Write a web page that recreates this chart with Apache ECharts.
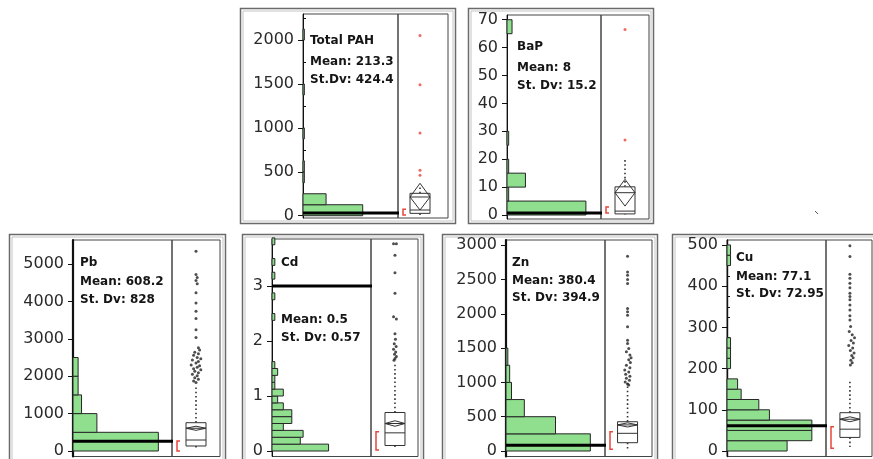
<!DOCTYPE html>
<html>
<head>
<meta charset="utf-8">
<script src="https://cdn.jsdelivr.net/npm/echarts@6/dist/echarts.min.js"></script>
<style>
  html, body { margin: 0; padding: 0; background: #fff; }
  #chart { width: 873px; height: 459px; }
</style>
</head>
<body>
<div id="chart"></div>
<script>
// ---------- Total PAH ----------
const pahTicks = [0, 500, 1000, 1500, 2000];
const pahMinorTicks = [250, 750, 1250, 1750, 2250];
const pahBinWidth = 125;
const pahBinStart = [0, 125, 375, 500, 875, 1375, 2000];
const pahCounts = [44, 17, 1, 1, 1, 1, 1];
const pahBox = [0, 27, 65, 255, 330];            // lower whisker, Q1, median, Q3, upper whisker
const pahMean = 213.3;
const pahSd = 424.4;
const pahDiamond = [65, 369];                     // 95% confidence interval of the mean
const pahShortestHalf = [8, 75];
const pahRefLine = 30;
const pahPoints = [[0, 2053], [0, 1492], [0, 943], [0, 518], [0, 461]];

// ---------- BaP ----------
const bapTicks = [0, 10, 20, 30, 40, 50, 60, 70];
const bapBinWidth = 5;
const bapBinStart = [0, 5, 10, 15, 25, 65];
const bapCounts = [47, 1, 11, 1, 1, 3];
const bapBox = [0.2, 0.4, 1.4, 10.1, 19.7];
const bapMean = 8;
const bapSd = 15.2;
const bapDiamond = [3.2, 12.8];
const bapShortestHalf = [0.7, 2.9];
const bapRefLine = 0.7;
const bapPoints = [[0, 66.5], [0, 26.9]];

// ---------- Pb ----------
const pbTicks = [0, 1000, 2000, 3000, 4000, 5000];
const pbBinWidth = 500;
const pbBinStart = [0, 500, 1000, 1500, 2000];
const pbCounts = [50, 14, 5, 3, 3];
const pbBox = [45, 134, 294, 757, 1765];
const pbMean = 608.2;
const pbSd = 828;
const pbDiamond = [553, 663];
const pbShortestHalf = [0, 267];
const pbRefLine = 260;
const pbPoints = [
  [0, 5340], [0, 4720], [0.05, 4640], [0, 4560], [0.05, 4470], [0, 4230], [0, 3960],
  [0, 3740], [0, 3540], [0, 3240], [0, 3035], [0.1, 2760], [0.15, 2700], [-0.05, 2640],
  [0.1, 2600], [-0.1, 2560], [0.05, 2500], [0.2, 2470], [-0.15, 2430], [0.1, 2390],
  [0, 2350], [-0.2, 2300], [0.15, 2280], [0.05, 2240], [-0.1, 2200], [0.2, 2170],
  [-0.05, 2130], [0.1, 2090], [-0.15, 2050], [0.05, 2010], [-0.05, 1960], [0.1, 1920],
  [-0.1, 1870], [0, 1830]
];

// ---------- Cd ----------
const cdTicks = [0, 1, 2, 3];
const cdBinWidth = 0.125;
const cdBinStart = [0, 0.125, 0.25, 0.375, 0.5, 0.625, 0.75, 0.875, 1, 1.125, 1.25, 1.375, 1.5,
  2.375, 2.75, 3.125, 3.375, 3.75];
const cdCounts = [20, 10, 11, 4, 7, 7, 4, 2, 4, 1, 1, 2, 1, 1, 1, 1, 1, 1];
const cdBox = [0.05, 0.1, 0.33, 0.7, 1.6];
const cdMean = 0.5;
const cdSd = 0.57;
const cdDiamond = [0.45, 0.55];
const cdShortestHalf = [0.02, 0.35];
const cdRefLine = 3;
const cdPoints = [
  [-0.06, 3.77], [0.06, 3.77], [0, 3.56], [0, 3.24], [0, 2.87], [-0.06, 2.44], [0.06, 2.4],
  [0, 2.13], [0.02, 2.03], [-0.03, 1.95], [0.05, 1.9], [-0.06, 1.85], [0.03, 1.8],
  [-0.02, 1.76], [0.06, 1.72], [0, 1.68], [-0.04, 1.65]
];

// ---------- Zn ----------
const znTicks = [0, 500, 1000, 1500, 2000, 2500, 3000];
const znBinWidth = 250;
const znBinStart = [0, 250, 500, 750, 1000, 1250];
const znCounts = [46, 27, 10, 3, 2, 1];
const znBox = [15, 121, 258, 427, 990];
const znMean = 380.4;
const znSd = 394.9;
const znDiamond = [350, 411];
const znShortestHalf = [25, 281];
const znRefLine = 85;
const znPoints = [
  [0, 2840], [0, 2611], [0, 2563], [0, 2500], [0, 2442], [0, 2078], [0, 2029], [0, 1980],
  [0, 1810], [0, 1616], [0, 1568], [0.05, 1495], [-0.05, 1447], [0.1, 1398], [0.15, 1360],
  [0.05, 1330], [0.12, 1290], [-0.05, 1252], [0.1, 1215], [-0.12, 1180], [0.05, 1150],
  [-0.08, 1120], [0.1, 1090], [-0.05, 1060], [0.08, 1030], [-0.1, 1005], [0, 976], [0.05, 962]
];

// ---------- Cu ----------
const cuTicks = [0, 100, 200, 300, 400, 500];
const cuMinorTicks = [25, 50, 75, 125, 150, 175, 225, 250, 275, 325, 350, 375, 425, 450, 475];
const cuBinWidth = 25;
const cuBinStart = [0, 25, 50, 75, 100, 125, 150, 200, 225, 250, 450, 475];
const cuCounts = [17, 24, 24, 12, 9, 4, 3, 1, 1, 1, 1, 1];
const cuBox = [10, 33, 53, 93, 172];
const cuMean = 77.1;
const cuSd = 72.95;
const cuDiamond = [71, 83];
const cuShortestHalf = [7, 59];
const cuRefLine = 61;
const cuPoints = [
  [0, 498], [0, 472], [0, 429], [0, 419], [0, 407], [0, 396], [0, 383], [0, 375], [0, 367],
  [0, 354], [0, 342], [0, 328], [0, 318], [0.03, 302], [-0.03, 290], [0.1, 282], [0.2, 275],
  [0.05, 268], [0.15, 262], [-0.05, 256], [0.12, 250], [0.02, 244], [0.18, 238], [0.08, 232],
  [0.14, 226], [0.04, 220], [0.1, 214], [0.02, 209]
];

const GREEN = '#8fdf8f';
const RED = '#e8473a';
const INK = '#333';

// Panel contents (data) and panel placement on the page (layout)
const panels = [
  { name: 'Total PAH', sdLabel: 'St.Dv: ', mean: pahMean, sd: pahSd, ticks: pahTicks, minor: pahMinorTicks,
    binWidth: pahBinWidth, binStart: pahBinStart, counts: pahCounts, box: pahBox, diamond: pahDiamond,
    half: pahShortestHalf, ref: pahRefLine, points: pahPoints, pointColor: RED,
    L: { frame: [240, 8, 455, 223], axisX: 303, divX: 398, rightX: 448, top: 14, bottom: 218,
         yMin: -26, yMax: 2297, countMax: 70, boxRange: [-0.88, 1.12], axisWidth: 1, textX: 310, textY: [41, 62, 80] } },
  { name: 'BaP', sdLabel: 'St. Dv: ', mean: bapMean, sd: bapSd, ticks: bapTicks, minor: null,
    binWidth: bapBinWidth, binStart: bapBinStart, counts: bapCounts, box: bapBox, diamond: bapDiamond,
    half: bapShortestHalf, ref: bapRefLine, points: bapPoints, pointColor: RED,
    L: { frame: [468, 8, 653, 223], axisX: 507, divX: 601, rightX: 649, top: 15, bottom: 219,
         yMin: -1.43, yMax: 71.7, countMax: 56, boxRange: [-1, 1], axisWidth: 1, textX: 517, textY: [47, 68, 86] } },
  { name: 'Pb', sdLabel: 'St. Dv: ', mean: pbMean, sd: pbSd, ticks: pbTicks, minor: null,
    binWidth: pbBinWidth, binStart: pbBinStart, counts: pbCounts, box: pbBox, diamond: pbDiamond,
    half: pbShortestHalf, ref: pbRefLine, points: pbPoints, pointColor: '#222',
    L: { frame: [9, 234, 225, 463], axisX: 73, divX: 172, rightX: 220, top: 240, bottom: 456.5,
         yMin: -147, yMax: 5642, countMax: 58, boxRange: [-1, 1], axisWidth: 2.2, textX: 80, textY: [263, 282, 300] } },
  { name: 'Cd', sdLabel: 'St. Dv: ', mean: cdMean, sd: cdSd, ticks: cdTicks, minor: null,
    binWidth: cdBinWidth, binStart: cdBinStart, counts: cdCounts, box: cdBox, diamond: cdDiamond,
    half: cdShortestHalf, ref: cdRefLine, points: cdPoints, pointColor: '#222',
    L: { frame: [242, 234, 423, 463], axisX: 272, divX: 371, rightX: 418, top: 239, bottom: 456.5,
         yMin: -0.1, yMax: 3.855, countMax: 35, boxRange: [-1.02, 0.98], axisWidth: 1, textX: 281, textY: [263, 320, 338] } },
  { name: 'Zn', sdLabel: 'St. Dv: ', mean: znMean, sd: znSd, ticks: znTicks, minor: null,
    binWidth: znBinWidth, binStart: znBinStart, counts: znCounts, box: znBox, diamond: znDiamond,
    half: znShortestHalf, ref: znRefLine, points: znPoints, pointColor: '#222',
    L: { frame: [442, 234, 657, 463], axisX: 506, divX: 605, rightX: 652, top: 240, bottom: 456.5,
         yMin: -80, yMax: 3076, countMax: 54, boxRange: [-0.96, 1.04], axisWidth: 2.2, textX: 512, textY: [263, 281, 298] } },
  { name: 'Cu', sdLabel: 'St. Dv: ', mean: cuMean, sd: cuSd, ticks: cuTicks, minor: cuMinorTicks,
    binWidth: cuBinWidth, binStart: cuBinStart, counts: cuCounts, box: cuBox, diamond: cuDiamond,
    half: cuShortestHalf, ref: cuRefLine, points: cuPoints, pointColor: '#222',
    L: { frame: [672, 234, 877, 463], axisX: 727, divX: 826, rightX: 872, top: 240, bottom: 456.5,
         yMin: -13.3, yMax: 512, countMax: 28, boxRange: [-1.04, 0.96], axisWidth: 1.4, textX: 736, textY: [258, 277, 294] } }
];

// Horizontal histogram bar: [binLow, binHigh, count]
function histItem(params, api) {
  const lo = api.value(0), hi = api.value(1), n = api.value(2);
  const p0 = api.coord([0, lo]);
  const p1 = api.coord([n, hi]);
  return {
    type: 'rect',
    shape: { x: p0[0], y: p1[1], width: p1[0] - p0[0], height: p0[1] - p1[1] },
    style: { fill: GREEN, stroke: '#262626', lineWidth: 1 }
  };
}

// Thick reference line across the histogram
function refItem(params, api) {
  const y = api.coord([0, api.value(1)])[1];
  const cs = params.coordSys;
  return {
    type: 'line',
    shape: { x1: cs.x, y1: y, x2: cs.x + cs.width + 1, y2: y },
    style: { stroke: '#000', lineWidth: 3 }
  };
}

// Outlier box plot with mean diamond and shortest-half bracket
function boxItem(params, api) {
  const cx = api.coord([0, 0])[0];
  const y = k => api.coord([0, api.value(k)])[1];
  const wLo = y(1), q1 = y(2), med = y(3), q3 = y(4), wHi = y(5);
  const ciLo = y(6), mean = y(7), ciHi = y(8), hLo = y(9), hHi = y(10);
  const hw = 10;
  const bx = params.coordSys.x + 5;
  const dotted = { stroke: INK, lineWidth: 1.6, lineDash: [1.6, 2.6] };
  const thin = { stroke: INK, lineWidth: 1, fill: null };
  return {
    type: 'group',
    children: [
      { type: 'line', shape: { x1: cx, y1: q3, x2: cx, y2: wHi }, style: dotted },
      { type: 'line', shape: { x1: cx, y1: q1, x2: cx, y2: wLo }, style: dotted },
      { type: 'rect', shape: { x: cx - hw, y: q3, width: 2 * hw, height: Math.max(q1 - q3, 0.5) },
        style: { fill: '#fff', stroke: INK, lineWidth: 1 } },
      { type: 'line', shape: { x1: cx - hw, y1: med, x2: cx + hw, y2: med }, style: thin },
      { type: 'polygon', shape: { points: [[cx, ciHi], [cx + hw, mean], [cx, ciLo], [cx - hw, mean]] },
        style: { fill: 'rgba(255,255,255,0)', stroke: INK, lineWidth: 1 } },
      { type: 'line', shape: { x1: cx - hw, y1: mean, x2: cx + hw, y2: mean }, style: thin },
      { type: 'polyline', shape: { points: [[bx + 3, hHi], [bx, hHi], [bx, hLo], [bx + 3, hLo]] },
        style: { fill: null, stroke: RED, lineWidth: 1.5 } }
    ]
  };
}

const grids = [], xAxes = [], yAxes = [], series = [], graphics = [];
const labelFont = { fontSize: 16, color: '#2a2a2a', fontFamily: 'DejaVu Sans' };

panels.forEach((p, i) => {
  const L = p.L;
  const gH = grids.length;
  grids.push({ left: L.axisX, top: L.top, width: L.divX - L.axisX, height: L.bottom - L.top,
    show: true, borderColor: '#444', borderWidth: 1, backgroundColor: 'transparent' });
  grids.push({ left: L.divX, top: L.top, width: L.rightX - L.divX, height: L.bottom - L.top,
    show: true, borderColor: '#444', borderWidth: 1, backgroundColor: 'transparent' });
  const gB = gH + 1;

  const xH = xAxes.length;
  xAxes.push({ type: 'value', gridIndex: gH, min: 0, max: L.countMax, show: false });
  xAxes.push({ type: 'value', gridIndex: gB, min: L.boxRange[0], max: L.boxRange[1], show: false });
  const xB = xH + 1;

  const yH = yAxes.length;
  yAxes.push({
    type: 'value', gridIndex: gH, min: L.yMin, max: L.yMax, splitLine: { show: false },
    axisLine: { show: true, onZero: false, lineStyle: { color: '#111', width: L.axisWidth } },
    axisTick: { show: true, length: 5, customValues: p.ticks, lineStyle: { color: '#111', width: 1 } },
    axisLabel: Object.assign({ show: true, customValues: p.ticks, margin: 9,
      formatter: v => String(v) }, labelFont)
  });
  yAxes.push({ type: 'value', gridIndex: gB, min: L.yMin, max: L.yMax, show: false });
  const yB = yH + 1;
  if (p.minor) {
    yAxes.push({
      type: 'value', gridIndex: gH, min: L.yMin, max: L.yMax, splitLine: { show: false },
      axisLine: { show: false },
      axisTick: { show: true, length: 3, customValues: p.minor, lineStyle: { color: '#111', width: 1 } },
      axisLabel: { show: false }
    });
  }

  series.push({
    type: 'custom', xAxisIndex: xH, yAxisIndex: yH, renderItem: histItem, z: 2,
    encode: { x: 2, y: [0, 1] },
    data: p.binStart.map((s, k) => [s, s + p.binWidth, p.counts[k]])
  });
  series.push({
    type: 'custom', xAxisIndex: xH, yAxisIndex: yH, renderItem: refItem, z: 4,
    encode: { x: 0, y: 1 }, data: [[0, p.ref]]
  });
  series.push({
    type: 'custom', xAxisIndex: xB, yAxisIndex: yB, renderItem: boxItem, z: 3,
    encode: { x: 0, y: 1 },
    data: [[0, p.box[0], p.box[1], p.box[2], p.box[3], p.box[4],
            p.diamond[0], p.mean, p.diamond[1], p.half[0], p.half[1]]]
  });
  series.push({
    type: 'scatter', xAxisIndex: xB, yAxisIndex: yB, z: 5, symbol: 'circle', symbolSize: 3,
    itemStyle: { color: p.pointColor }, data: p.points
  });

  // Panel frame
  const f = L.frame;
  graphics.push({ type: 'rect', silent: true, z: 0,
    shape: { x: f[0] + 0.5, y: f[1] + 0.5, width: f[2] - f[0], height: f[3] - f[1] },
    style: { fill: null, stroke: '#6a6a6a', lineWidth: 1.5 } });
  graphics.push({ type: 'rect', silent: true, z: 0,
    shape: { x: f[0] + 3, y: f[1] + 3, width: f[2] - f[0] - 5, height: f[3] - f[1] - 5 },
    style: { fill: null, stroke: '#c4c4c4', lineWidth: 1 } });

  // Name and summary statistics
  const lines = [p.name, 'Mean: ' + p.mean, p.sdLabel + p.sd];
  lines.forEach((t, k) => {
    graphics.push({ type: 'text', silent: true, z: 10, x: L.textX, y: L.textY[k],
      style: { text: t, font: 'bold 12px "DejaVu Sans"', fill: '#151515', verticalAlign: 'middle' } });
  });
});

// small stray stroke between the panels
graphics.push({ type: 'line', silent: true, shape: { x1: 815, y1: 211, x2: 818, y2: 214 },
  style: { stroke: '#555', lineWidth: 1 } });

const chart = echarts.init(document.getElementById('chart'), null, { renderer: 'canvas' });
chart.setOption({
  animation: false,
  backgroundColor: '#fff',
  grid: grids,
  xAxis: xAxes,
  yAxis: yAxes,
  series: series,
  graphic: { elements: graphics }
});
</script>
</body>
</html>
